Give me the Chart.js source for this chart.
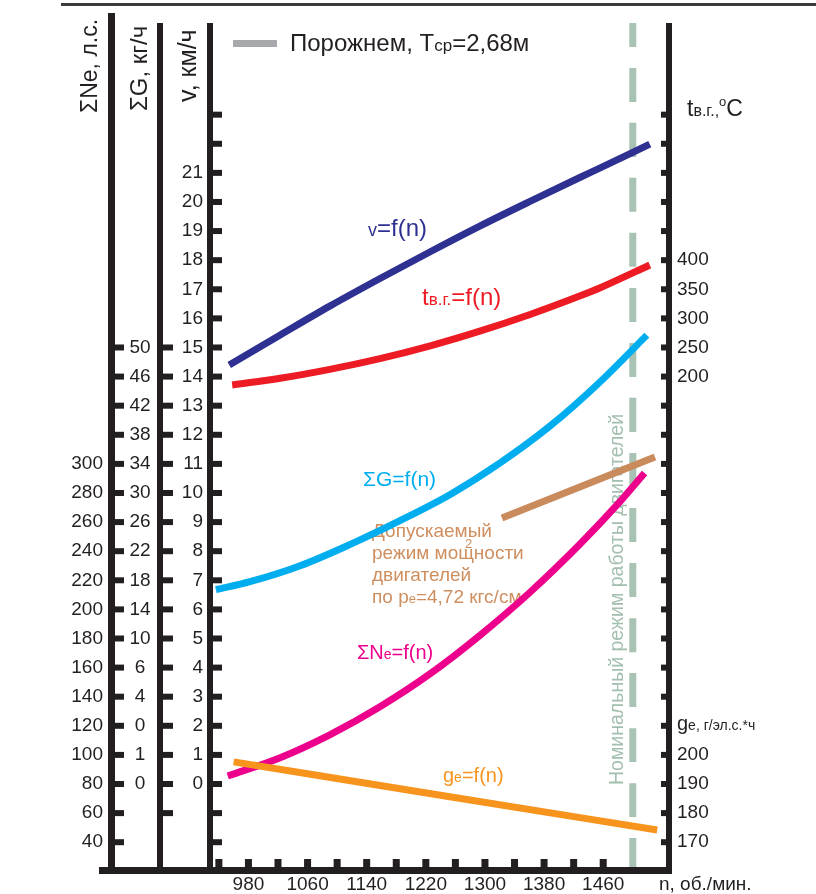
<!DOCTYPE html>
<html>
<head>
<meta charset="utf-8">
<script src="https://cdn.jsdelivr.net/npm/chart.js@4.4.1/dist/chart.umd.min.js"></script>
<style>
  html, body { margin: 0; padding: 0; background: #ffffff; }
  #wrap { width: 816px; height: 894px; }
</style>
</head>
<body>
<div id="wrap"><canvas id="chart" width="816" height="894"></canvas></div>
<script>
// ---- Engine characteristics vs. crankshaft speed n, rpm ----
// speed v, km/h
const speedRpm = [954, 1023, 1090, 1158, 1226, 1293, 1361, 1429, 1456, 1523];
const speedKmh = [14.40, 15.43, 16.42, 17.37, 18.29, 19.17, 20.02, 20.85, 21.17, 21.99];
// exhaust gas temperature t, °C
const gasRpm = [958, 1023, 1090, 1158, 1226, 1293, 1361, 1429, 1456, 1523];
const gasTemp = [185.6, 197.1, 212.4, 230.9, 252.8, 278.0, 306.7, 338.8, 352.6, 391.8];
// total fuel consumption ΣG, kg/h
const fuelRpm = [936, 982, 1050, 1117, 1185, 1253, 1320, 1388, 1456, 1519];
const fuelFlow = [16.7, 17.8, 20.0, 22.9, 26.2, 29.8, 34.1, 39.2, 45.3, 51.7];
// total power ΣNe, hp
const powerRpm = [952, 1023, 1090, 1158, 1226, 1293, 1361, 1429, 1483, 1516];
const powerHp = [85.5, 98.1, 113.8, 133.1, 155.8, 182.1, 211.8, 245.1, 274.2, 293.7];
// specific fuel consumption ge, g/(hp*h)
const sfcRpm = [960, 1246, 1533];
const sfcValue = [197.6, 185.9, 174.2];
// permissible power at pe = 4.72 kgf/cm2, hp
const limitRpm = [1323, 1530];
const limitHp = [262.8, 304.7];
// nominal engine speed, rpm
const nominalRpm = 1500;

// ---- tick labels ----
const rpmTicks = [980, 1060, 1140, 1220, 1300, 1380, 1460];
const rpmMarks = [940, 980, 1020, 1060, 1100, 1140, 1180, 1220, 1260, 1300, 1340, 1380, 1420, 1460];
const powerTicks = [300, 280, 260, 240, 220, 200, 180, 160, 140, 120, 100, 80, 60, 40];
// ΣG column is printed row by row, one row per 4 kg/h starting at 50
const fuelTickLabels = ['50', '46', '42', '38', '34', '30', '26', '22', '18', '14', '10', '6', '4', '0', '1', '0'];
const speedTicks = [21, 20, 19, 18, 17, 16, 15, 14, 13, 12, 11, 10, 9, 8, 7, 6, 5, 4, 3, 2, 1, 0];
const tempTicks = [400, 350, 300, 250, 200];
const sfcTicks = [200, 190, 180, 170];

// common vertical grid expressed in km/h; the other axes are linear re-labelings of it
const V_MIN = -2.852, V_MAX = 26.15;
const neOf = v => 80 + 20 * v;
const gOf = v => 4 * v - 10;
const tOf = v => 50 * v - 500;
const geOf = v => 190 + 10 * v;

const FONT = '"Liberation Sans", Arial, Helvetica, sans-serif';
const INK = '#231f20';
const C = {
  speed: '#2e3192', temp: '#ed1c24', fuel: '#00aeef', power: '#ec008c',
  sfc: '#f7941d', limit: '#c98a5c', limitText: '#cf8e5e', nominal: '#a8c3b4',
  nominalText: '#a3bfae', empty: '#a7a9ac'
};

const pts = (xs, ys) => xs.map((x, i) => ({ x: x, y: ys[i] }));

function rich(ctx, x, y, parts, color) {
  ctx.fillStyle = color;
  ctx.textAlign = 'left';
  ctx.textBaseline = 'alphabetic';
  let cx = x;
  for (const p of parts) {
    const [t, size, dy] = p;
    ctx.font = size + 'px ' + FONT;
    ctx.fillText(t, cx, y + (dy || 0));
    cx += ctx.measureText(t).width;
  }
}
function richUp(ctx, x, y, parts, color) {
  ctx.save();
  ctx.translate(x, y);
  ctx.rotate(-Math.PI / 2);
  rich(ctx, 0, 0, parts, color);
  ctx.restore();
}

const framePlugin = {
  id: 'frame',
  beforeDatasetsDraw(chart) {
    const ctx = chart.ctx;
    const s = chart.scales;
    const a = chart.chartArea;
    const yv = v => s.yV.getPixelForValue(v);
    ctx.save();

    // top rule
    ctx.fillStyle = '#3a3a3a';
    ctx.fillRect(61, 3, 755, 3);

    ctx.fillStyle = INK;
    // vertical axis lines
    ctx.fillRect(108, 13, 7, 861);
    ctx.fillRect(157, a.top, 6, 874 - a.top);
    ctx.fillRect(a.left - 3, a.top, 6, 874 - a.top);
    ctx.fillRect(a.right - 3, a.top, 6, 874 - a.top);
    // bottom axis line
    ctx.fillRect(99, a.bottom, a.right + 3 - 99, 7);

    // ΣNe column marks (20 hp steps)
    for (let ne = 40; ne <= 380; ne += 20) {
      const y = s.yNe.getPixelForValue(ne);
      ctx.fillRect(114, y - 3, 10, 6);
    }
    // ΣG column marks (4 kg/h steps)
    for (let g = gOf(-1); g <= 50.001; g += 4) {
      const y = s.yG.getPixelForValue(g);
      ctx.fillRect(162, y - 3, 11, 6);
    }
    // v axis marks and right axis marks
    for (let v = -2; v <= 23; v++) {
      const y = yv(v);
      ctx.fillRect(a.left + 2, y - 3, 10, 6);
      ctx.fillRect(a.right - 8, y - 3, 6, 6);
    }
    // rpm marks
    rpmMarks.forEach(n => {
      const x = s.x.getPixelForValue(n);
      ctx.fillRect(x - 3.5, a.bottom - 8, 7, 8);
    });

    // tick labels
    ctx.font = '19px ' + FONT;
    ctx.textBaseline = 'middle';
    ctx.textAlign = 'right';
    powerTicks.forEach(ne => ctx.fillText(String(ne), 103, s.yNe.getPixelForValue(ne)));
    ctx.textAlign = 'center';
    fuelTickLabels.forEach((lab, i) => ctx.fillText(lab, 140, s.yG.getPixelForValue(50 - 4 * i)));
    ctx.textAlign = 'right';
    speedTicks.forEach(v => ctx.fillText(String(v), 203, yv(v)));
    ctx.textAlign = 'left';
    tempTicks.forEach(t => ctx.fillText(String(t), 677, s.yT.getPixelForValue(t)));
    sfcTicks.forEach(g => ctx.fillText(String(g), 677, s.yGe.getPixelForValue(g)));
    ctx.textAlign = 'center';
    ctx.textBaseline = 'alphabetic';
    rpmTicks.forEach(n => ctx.fillText(String(n), s.x.getPixelForValue(n), 890));

    // axis titles
    richUp(ctx, 97, 113, [['ΣNe, л.с.', 23]], INK);
    richUp(ctx, 147, 111, [['ΣG, кг/ч', 24]], INK);
    richUp(ctx, 196, 102, [['v, км/ч', 25]], INK);
    rich(ctx, 687, 116, [['t', 23], ['в.г.,', 16], ['o', 13, -10], ['C', 23]], INK);
    rich(ctx, 677, s.yGe.getPixelForValue(210) + 4, [['g', 20], ['e, г/эл.с.*ч', 14]], INK);
    rich(ctx, 659, 890, [['n, об./мин.', 19]], INK);

    // legend
    ctx.fillStyle = C.empty;
    ctx.fillRect(233, 40, 44, 7);
    rich(ctx, 290, 51, [['Порожнем, T', 24], ['ср', 17], ['=2,68м', 24]], INK);

    // nominal regime caption
    ctx.save();
    ctx.beginPath();
    ctx.rect(a.left, a.top, a.right - a.left, a.bottom - a.top);
    ctx.clip();
    richUp(ctx, 623, 785, [['Номинальный режим работы двигателей', 19.5]], C.nominalText);
    ctx.restore();

    // curve captions
    rich(ctx, 368, 236, [['v', 18], ['=f(n)', 24]], C.speed);
    rich(ctx, 422, 305, [['t', 24], ['в.г.', 17], ['=f(n)', 24]], C.temp);
    rich(ctx, 363, 486, [['ΣG=f(n)', 21]], C.fuel);
    rich(ctx, 357, 659, [['ΣN', 20], ['e', 14], ['=f(n)', 20]], C.power);
    rich(ctx, 443, 782, [['g', 20], ['e', 14], ['=f(n)', 20]], C.sfc);

    // permissible power caption
    rich(ctx, 372, 537, [['Допускаемый', 19]], C.limitText);
    rich(ctx, 372, 559, [['режим мощности', 19]], C.limitText);
    rich(ctx, 372, 581, [['двигателей', 19]], C.limitText);
    rich(ctx, 372, 603, [['по p', 19], ['e', 13], ['=4,72 кгс/см', 19]], C.limitText);
    rich(ctx, 465, 548, [['2', 13]], C.limitText);

    ctx.restore();
  }
};

const curve = (data, color, axis, extra) => Object.assign({
  data: data, yAxisID: axis, borderColor: color, backgroundColor: color,
  borderWidth: 7, pointRadius: 0, fill: false, tension: 0.4,
  cubicInterpolationMode: 'monotone', borderCapStyle: 'butt'
}, extra || {});

new Chart(document.getElementById('chart'), {
  type: 'line',
  data: {
    datasets: [
      curve([{ x: nominalRpm, y: V_MAX }, { x: nominalRpm, y: V_MIN }], C.nominal, 'yV',
        { borderDash: [34, 21], borderDashOffset: 10, tension: 0, order: 10 }),
      curve(pts(sfcRpm, sfcValue), C.sfc, 'yGe', { tension: 0 }),
      curve(pts(powerRpm, powerHp), C.power, 'yNe'),
      curve(pts(limitRpm, limitHp), C.limit, 'yNe', { tension: 0 }),
      curve(pts(fuelRpm, fuelFlow), C.fuel, 'yG'),
      curve(pts(gasRpm, gasTemp), C.temp, 'yT'),
      curve(pts(speedRpm, speedKmh), C.speed, 'yV')
    ]
  },
  options: {
    responsive: false,
    animation: false,
    devicePixelRatio: 1,
    layout: { padding: { left: 210, right: 147, top: 23, bottom: 27 } },
    plugins: { legend: { display: false }, tooltip: { enabled: false }, title: { display: false } },
    scales: {
      x: { type: 'linear', min: 928, max: 1549, display: false },
      yV: { type: 'linear', min: V_MIN, max: V_MAX, display: false },
      yNe: { type: 'linear', min: neOf(V_MIN), max: neOf(V_MAX), display: false },
      yG: { type: 'linear', min: gOf(V_MIN), max: gOf(V_MAX), display: false },
      yT: { type: 'linear', min: tOf(V_MIN), max: tOf(V_MAX), display: false },
      yGe: { type: 'linear', min: geOf(V_MIN), max: geOf(V_MAX), display: false }
    }
  },
  plugins: [framePlugin]
});
</script>
</body>
</html>
